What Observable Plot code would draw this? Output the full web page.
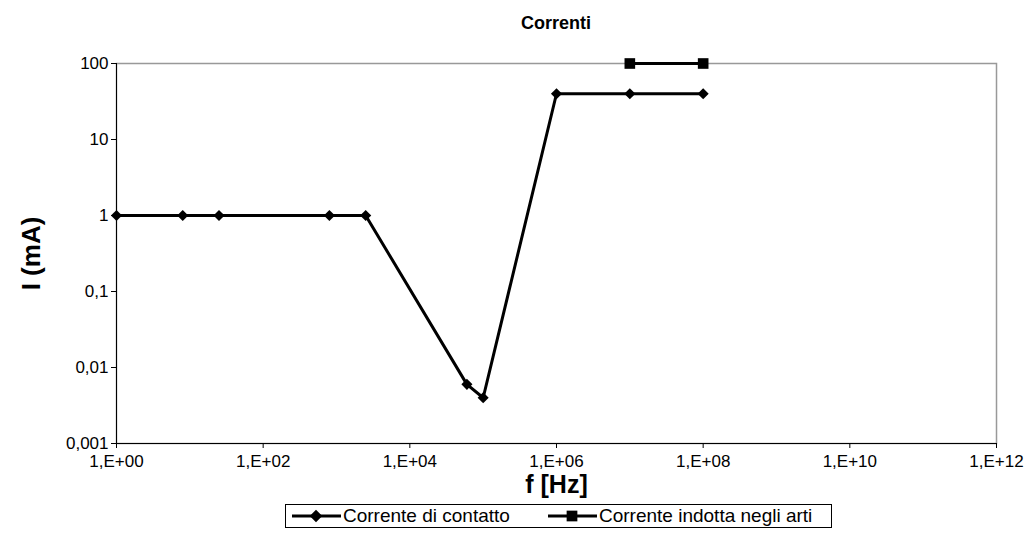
<!DOCTYPE html>
<html>
<head>
<meta charset="utf-8">
<script src="https://cdn.jsdelivr.net/npm/d3@7"></script>
<script src="https://cdn.jsdelivr.net/npm/@observablehq/plot@0.6"></script>
<style>
  body { margin: 0; background: #fff; font-family: "Liberation Sans", Arial, sans-serif; }
  #wrap { width: 1029px; }
  #title { height: 44px; padding-top: 2px; line-height: 42px; box-sizing: border-box; text-align: center;
           font-weight: bold; font-size: 18px; padding-left: 83px; }
  #chart svg { display: block; }
  #legend { margin: 0 0 0 285px; width: 547px; height: 24px; box-sizing: border-box; border: 1px solid #000;
            display: flex; align-items: center; font-size: 19px; }
  #legend .item { display: flex; align-items: center; white-space: nowrap; }
  #legend svg { display: block; }
</style>
</head>
<body>
<div id="wrap">
  <div id="title">Correnti</div>
  <div id="chart"></div>
  <div id="legend"></div>
</div>
<script>
// Contact current vs. frequency
const contattoFreq = [1, 8, 25, 800, 2500, 60000, 100000, 1e6, 1e7, 1e8];
const contattoCurr = [1, 1, 1, 1, 1, 0.006, 0.004, 40, 40, 40];
// Induced current in the limbs
const indottaFreq = [1e7, 1e8];
const indottaCurr = [100, 100];

// Axis ticks
const xTicks = [1, 1e2, 1e4, 1e6, 1e8, 1e10, 1e12];
const yTicks = [0.001, 0.01, 0.1, 1, 10, 100];

const seriesNames = ["Corrente di contatto", "Corrente indotta negli arti"];

const contatto = contattoFreq.map((f, i) => ({f, I: contattoCurr[i]}));
const indotta = indottaFreq.map((f, i) => ({f, I: indottaCurr[i]}));

const fmtX = v => "1,E+" + String(Math.round(Math.log10(v))).padStart(2, "0");
const fmtY = v => String(+v.toPrecision(3)).replace(".", ",");

const chart = Plot.plot({
  width: 1029,
  height: 460,
  marginLeft: 116,
  marginRight: 33,
  marginTop: 19,
  marginBottom: 61,
  style: { fontFamily: "'Liberation Sans', Arial, sans-serif", fontSize: "17px", color: "#000", background: "#fff" },
  x: { type: "log", domain: [1, 1e12] },
  y: { type: "log", domain: [0.001, 100] },
  marks: [
    Plot.frame({ stroke: "#999", strokeWidth: 1.5 }),
    Plot.ruleX([1], { stroke: "#000", strokeWidth: 1 }),
    Plot.ruleY([0.001], { stroke: "#000", strokeWidth: 1 }),
    Plot.axisX({ ticks: xTicks, tickFormat: fmtX, tickSize: 5, tickPadding: 6, label: null, fontSize: 17 }),
    Plot.axisY({ ticks: yTicks, tickFormat: fmtY, tickSize: 5, tickPadding: 3, label: null, fontSize: 17 }),
    Plot.line(contatto, { x: "f", y: "I", stroke: "#000", strokeWidth: 3 }),
    Plot.dot(contatto, { x: "f", y: "I", symbol: "diamond2", r: 5, fill: "#000", stroke: "none" }),
    Plot.line(indotta, { x: "f", y: "I", stroke: "#000", strokeWidth: 3 }),
    Plot.dot(indotta, { x: "f", y: "I", symbol: "square", r: 6, fill: "#000", stroke: "none" }),
    Plot.text(["f [Hz]"], { frameAnchor: "bottom", lineAnchor: "middle", textAnchor: "middle", dy: 41,
                            fontSize: 25, fontWeight: "bold", fill: "#000" }),
    Plot.text(["I (mA)"], { frameAnchor: "left", lineAnchor: "middle", textAnchor: "middle", dx: -85, rotate: -90,
                            fontSize: 26, fontWeight: "bold", fill: "#000" })
  ]
});
document.getElementById("chart").appendChild(chart);

// Legend entries
const legend = d3.select("#legend");
const symbols = [d3.symbolDiamond2, d3.symbolSquare];
const sizes = [100, 115];
const widths = [256, 285];
seriesNames.forEach((name, i) => {
  const item = legend.append("div").attr("class", "item").style("width", widths[i] + "px");
  const svg = item.append("svg").attr("width", 57).attr("height", 14);
  svg.append("line").attr("x1", 6).attr("x2", 55).attr("y1", 7).attr("y2", 7).attr("stroke", "#000").attr("stroke-width", 3);
  svg.append("path").attr("transform", "translate(30,7)").attr("d", d3.symbol(symbols[i], sizes[i])()).attr("fill", "#000");
  item.append("span").text(name);
});
</script>
</body>
</html>
